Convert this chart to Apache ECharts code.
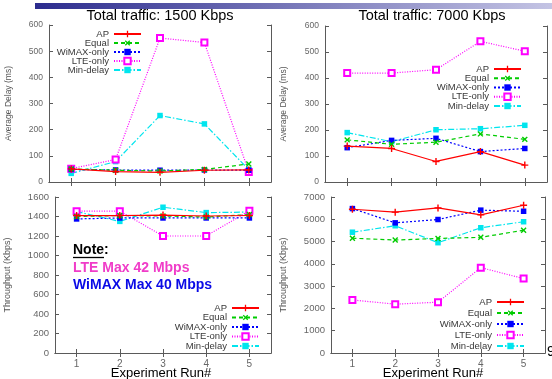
<!DOCTYPE html>
<html><head><meta charset="utf-8">
<script src="https://cdn.jsdelivr.net/npm/echarts@6/dist/echarts.min.js"></script>
<style>html,body{margin:0;padding:0;background:#fff}#c{width:552px;height:379px}</style>
</head><body><div id="c"></div>
<script>
const runs = ['1', '2', '3', '4', '5'];
const seriesNames = ['AP', 'Equal', 'WiMAX-only', 'LTE-only', 'Min-delay'];

// Average delay (ms), total traffic 1500 Kbps
const delay1500_AP = [50, 40, 37, 45, 46];
const delay1500_Equal = [50, 45, 42, 48, 69];
const delay1500_WiMAX = [48, 46, 45, 46, 45];
const delay1500_LTE = [51, 86, 550, 533, 38];
const delay1500_Min = [33, 78, 254, 222, 47];

// Average delay (ms), total traffic 7000 Kbps
const delay7000_AP = [138, 129, 79, 117, 65];
const delay7000_Equal = [162, 145, 153, 185, 164];
const delay7000_WiMAX = [132, 160, 168, 117, 129];
const delay7000_LTE = [419, 419, 432, 541, 503];
const delay7000_Min = [190, 155, 201, 205, 218];

// Throughput (Kbps), 1500 Kbps
const thr1500_AP = [1410, 1410, 1415, 1405, 1410];
const thr1500_Equal = [1400, 1410, 1405, 1395, 1420];
const thr1500_WiMAX = [1375, 1385, 1385, 1385, 1385];
const thr1500_LTE = [1455, 1455, 1200, 1200, 1460];
const thr1500_Min = [1450, 1350, 1495, 1440, 1445];

// Throughput (Kbps), 7000 Kbps
const thr7000_AP = [6450, 6320, 6510, 6200, 6630];
const thr7000_Equal = [5150, 5070, 5140, 5190, 5510];
const thr7000_WiMAX = [6480, 5840, 5990, 6410, 6360];
const thr7000_LTE = [2380, 2190, 2280, 3830, 3340];
const thr7000_Min = [5420, 5710, 4950, 5620, 5890];

const titles = ['Total traffic: 1500 Kbps', 'Total traffic: 7000 Kbps'];
const xName = 'Experiment Run#';
const yNames = ['Average Delay (ms)', 'Throughput (Kbps)'];
const noteTexts = ['Note:', 'LTE Max 42 Mbps', 'WiMAX Max 40 Mbps'];
const pageNum = '9';

const FONT = '"Liberation Sans", Arial, sans-serif';
const frame = '#5a5a5a';
const PLUS = 'path://M4,0H6V4H10V6H6V10H4V6H0V4H4Z';

const styles = [
  {color: '#ff0000', type: 'solid', symbol: PLUS, size: 7, rot: 0},
  {color: '#00cc00', type: [4, 3], symbol: PLUS, size: 7, rot: 45},
  {color: '#0000ff', type: [2, 2], symbol: 'rect', size: 5.5, rot: 0},
  {color: '#ff00ff', type: [1, 1.5], symbol: 'emptyRect', size: 6, rot: 0},
  {color: '#00e5ee', type: [6, 2, 1.5, 2], symbol: 'rect', size: 5.5, rot: 0}
];

const panels = [
  {grid: {left: 49, top: 25, width: 222, height: 157}, max: 600, interval: 100, labelSize: 8.5, xLabels: false, yName: yNames[0], nameGap: 36, nameSize: 8.5,
   data: [delay1500_AP, delay1500_Equal, delay1500_WiMAX, delay1500_LTE, delay1500_Min],
   legend: {right: 410, top: 29, itemGap: -1}},
  {grid: {left: 325, top: 26, width: 222, height: 156}, max: 600, interval: 100, labelSize: 8.5, xLabels: false, yName: yNames[0], nameGap: 37, nameSize: 8.5,
   data: [delay7000_AP, delay7000_Equal, delay7000_WiMAX, delay7000_LTE, delay7000_Min],
   legend: {right: 30, top: 64, itemGap: -0.75}},
  {grid: {left: 55, top: 197, width: 216, height: 156}, max: 1600, interval: 200, labelSize: 9.5, xLabels: true, yName: yNames[1], nameGap: 43, nameSize: 9,
   data: [thr1500_AP, thr1500_Equal, thr1500_WiMAX, thr1500_LTE, thr1500_Min],
   legend: {right: 292, top: 303, itemGap: -0.5}},
  {grid: {left: 331, top: 197, width: 214, height: 156}, max: 7000, interval: 1000, labelSize: 9.5, xLabels: true, yName: yNames[1], nameGap: 43, nameSize: 9,
   data: [thr7000_AP, thr7000_Equal, thr7000_WiMAX, thr7000_LTE, thr7000_Min],
   legend: {right: 27, top: 297, itemGap: 1}}
];

const grid = [], xAxis = [], yAxis = [], series = [], legend = [];
panels.forEach((p, i) => {
  grid.push(Object.assign({containLabel: false}, p.grid));
  const tick = {show: true, inside: true, length: 4, lineStyle: {color: frame, width: 1}};
  const line = {show: true, lineStyle: {color: frame, width: 1}};
  xAxis.push({type: 'category', gridIndex: i, data: runs, boundaryGap: true, position: 'bottom',
    axisLine: line, axisTick: Object.assign({alignWithLabel: true}, tick),
    axisLabel: {show: p.xLabels, color: '#666', fontSize: 10, fontFamily: FONT, margin: 6},
    splitLine: {show: false}});
  xAxis.push({type: 'category', gridIndex: i, data: runs, boundaryGap: true, position: 'top',
    axisLine: line, axisTick: Object.assign({alignWithLabel: true}, tick),
    axisLabel: {show: false}, splitLine: {show: false}});
  yAxis.push({type: 'value', gridIndex: i, min: 0, max: p.max, interval: p.interval, position: 'left',
    name: p.yName, nameLocation: 'middle', nameGap: p.nameGap, nameRotate: 90,
    nameTextStyle: {color: '#555', fontSize: p.nameSize, fontFamily: FONT},
    axisLine: line, axisTick: tick,
    axisLabel: {color: '#666', fontSize: p.labelSize, fontFamily: FONT, margin: 6, formatter: v => String(v)},
    splitLine: {show: false}});
  yAxis.push({type: 'value', gridIndex: i, min: 0, max: p.max, interval: p.interval, position: 'right',
    axisLine: line, axisTick: tick, axisLabel: {show: false}, splitLine: {show: false}});
  p.data.forEach((d, k) => {
    const s = styles[k];
    series.push({
      name: seriesNames[k], type: 'line', xAxisIndex: i * 2, yAxisIndex: i * 2, data: d,
      symbol: s.symbol, symbolSize: s.size, symbolRotate: s.rot, showAllSymbol: true,
      lineStyle: {color: s.color, width: 1.2, type: s.type},
      itemStyle: {color: s.color, borderColor: s.color, borderWidth: s.symbol === 'emptyRect' ? 1.2 : 0},
      emphasis: {disabled: true}, animation: false, z: 5 - k
    });
  });
  legend.push({
    orient: 'vertical', align: 'right', right: p.legend.right, top: p.legend.top,
    itemGap: p.legend.itemGap, itemWidth: 27, itemHeight: 8, padding: 0,
    data: seriesNames, selectedMode: false,
    textStyle: {color: '#383838', fontSize: 9.5, fontFamily: FONT, lineHeight: 8, padding: [0, 0, 0, 0]}
  });
});

const graphic = [
  {type: 'rect', left: 35, top: 3, shape: {width: 517, height: 6},
   style: {fill: new echarts.graphic.LinearGradient(0, 0, 1, 0, [{offset: 0, color: '#2c2c8e'}, {offset: 1, color: '#c4c4e4'}])}},
  {type: 'text', x: 160, y: 16, style: {text: titles[0], fill: '#000', font: '14.5px ' + FONT, textAlign: 'center', textVerticalAlign: 'middle'}},
  {type: 'text', x: 432, y: 16, style: {text: titles[1], fill: '#000', font: '14.5px ' + FONT, textAlign: 'center', textVerticalAlign: 'middle'}},
  {type: 'text', x: 161, y: 373, style: {text: xName, fill: '#000', font: '13px ' + FONT, textAlign: 'center', textVerticalAlign: 'middle'}},
  {type: 'text', x: 433, y: 373, style: {text: xName, fill: '#000', font: '13px ' + FONT, textAlign: 'center', textVerticalAlign: 'middle'}},
  {type: 'text', x: 73, y: 250, z: 10, style: {text: noteTexts[0], fill: '#000', font: 'bold 14px ' + FONT, textAlign: 'left', textVerticalAlign: 'middle'}},
  {type: 'line', z: 10, shape: {x1: 73, y1: 257.5, x2: 104, y2: 257.5}, style: {stroke: '#000', lineWidth: 1.3}},
  {type: 'text', x: 73, y: 268, z: 10, style: {text: noteTexts[1], fill: '#f03cc8', font: 'bold 14px ' + FONT, textAlign: 'left', textVerticalAlign: 'middle'}},
  {type: 'text', x: 73, y: 285, z: 10, style: {text: noteTexts[2], fill: '#0a0ae6', font: 'bold 14px ' + FONT, textAlign: 'left', textVerticalAlign: 'middle'}},
  {type: 'text', x: 547, y: 352, style: {text: pageNum, fill: '#000', font: '14px ' + FONT, textAlign: 'left', textVerticalAlign: 'middle'}}
];

const chart = echarts.init(document.getElementById('c'), null, {renderer: 'canvas'});
chart.setOption({animation: false, backgroundColor: '#fff', grid, xAxis, yAxis, series, legend, graphic});
</script>
</body></html>
